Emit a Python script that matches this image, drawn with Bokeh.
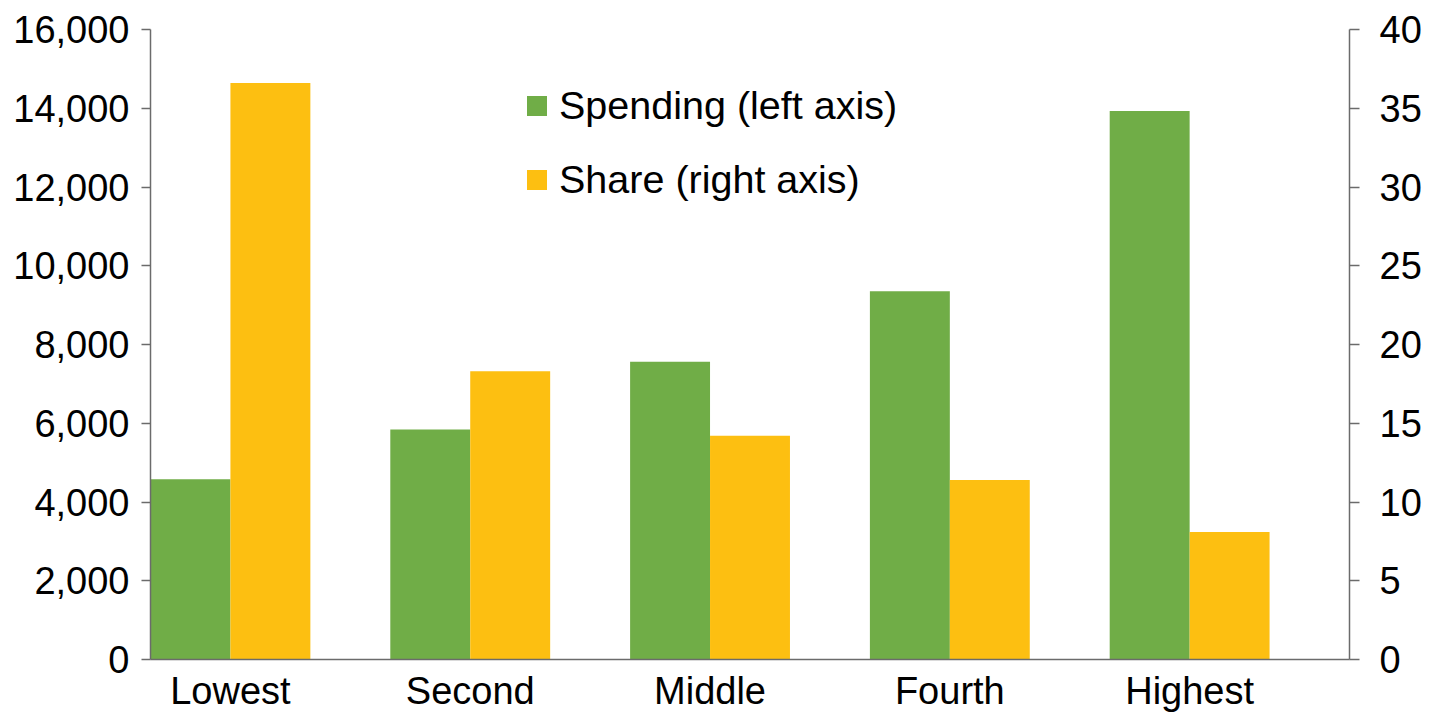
from bokeh.plotting import figure
from bokeh.models import (Range1d, LinearAxis, FixedTicker, NumeralTickFormatter,
                          ColumnDataSource, Legend, LegendItem)
from bokeh.transform import dodge
from bokeh.embed import file_html
from bokeh.resources import INLINE

categories = ["Lowest", "Second", "Middle", "Fourth", "Highest"]
spending = [4580, 5840, 7560, 9350, 13930]
share = [36.6, 18.3, 14.2, 11.4, 8.1]
left_ticks = [0, 2000, 4000, 6000, 8000, 10000, 12000, 14000, 16000]
right_ticks = [0, 5, 10, 15, 20, 25, 30, 35, 40]

FONT = "Liberation Sans"
FS = "38px"
AXIS_COLOR = "#6b6b6b"

xs = list(range(len(categories)))
src = ColumnDataSource(dict(x=xs, spending=spending, share=share))

p = figure(width=1437, height=721, output_backend="svg", toolbar_location=None,
           x_range=Range1d(-1/3, len(categories) - 1/3),
           y_range=Range1d(0, 16000),
           min_border_left=150, min_border_right=88,
           min_border_top=29, min_border_bottom=62,
           y_axis_location="left")
p.extra_y_ranges = {"share": Range1d(0, 40)}
p.outline_line_color = None
p.xgrid.visible = False
p.ygrid.visible = False
p.background_fill_color = "white"
p.border_fill_color = "white"

g = p.vbar(x=dodge("x", -1/6, range=p.x_range), top="spending", width=1/3,
           source=src, fill_color="#70AD47", line_color=None)
o = p.vbar(x=dodge("x", 1/6, range=p.x_range), top="share", width=1/3,
           source=src, fill_color="#FDBF11", line_color=None,
           y_range_name="share")

# left axis
ly = p.yaxis[0]
ly.ticker = FixedTicker(ticks=left_ticks)
ly.formatter = NumeralTickFormatter(format="0,0")
ly.major_label_text_font = FONT
ly.major_label_text_font_size = FS
ly.major_label_text_color = "black"
ly.axis_line_color = AXIS_COLOR
ly.axis_line_width = 1.5
ly.major_tick_line_color = AXIS_COLOR
ly.major_tick_line_width = 1.5
ly.major_tick_out = 9
ly.major_tick_in = 0
ly.minor_tick_line_color = None
ly.major_label_standoff = 12

# right axis
ry = LinearAxis(y_range_name="share", ticker=FixedTicker(ticks=right_ticks))
ry.major_label_text_font = FONT
ry.major_label_text_font_size = FS
ry.major_label_text_color = "black"
ry.axis_line_color = AXIS_COLOR
ry.axis_line_width = 1.5
ry.major_tick_line_color = AXIS_COLOR
ry.major_tick_line_width = 1.5
ry.major_tick_out = 10
ry.major_tick_in = 0
ry.minor_tick_line_color = None
ry.major_label_standoff = 20
p.add_layout(ry, "right")

# x axis
xa = p.xaxis[0]
xa.ticker = FixedTicker(ticks=xs)
xa.major_label_overrides = {i: c for i, c in zip(xs, categories)}
xa.major_label_text_font = FONT
xa.major_label_text_font_size = FS
xa.major_label_text_color = "black"
xa.axis_line_color = AXIS_COLOR
xa.axis_line_width = 1.5
xa.major_tick_line_color = None
xa.minor_tick_line_color = None
xa.major_tick_out = 0
xa.major_tick_in = 0
xa.major_label_standoff = 10

legend = Legend(items=[LegendItem(label="Spending (left axis)", renderers=[g]),
                       LegendItem(label="Share (right axis)", renderers=[o])],
                location=(374, 457))
legend.label_text_font = FONT
legend.label_text_font_size = "39.5px"
legend.label_text_color = "black"
legend.glyph_width = 25
legend.glyph_height = 25
legend.label_standoff = 10
legend.label_height = 40
legend.spacing = 29
legend.padding = 0
legend.margin = 0
legend.border_line_color = None
legend.background_fill_alpha = 0
p.add_layout(legend)

open("out.html", "w").write(file_html(p, INLINE))
